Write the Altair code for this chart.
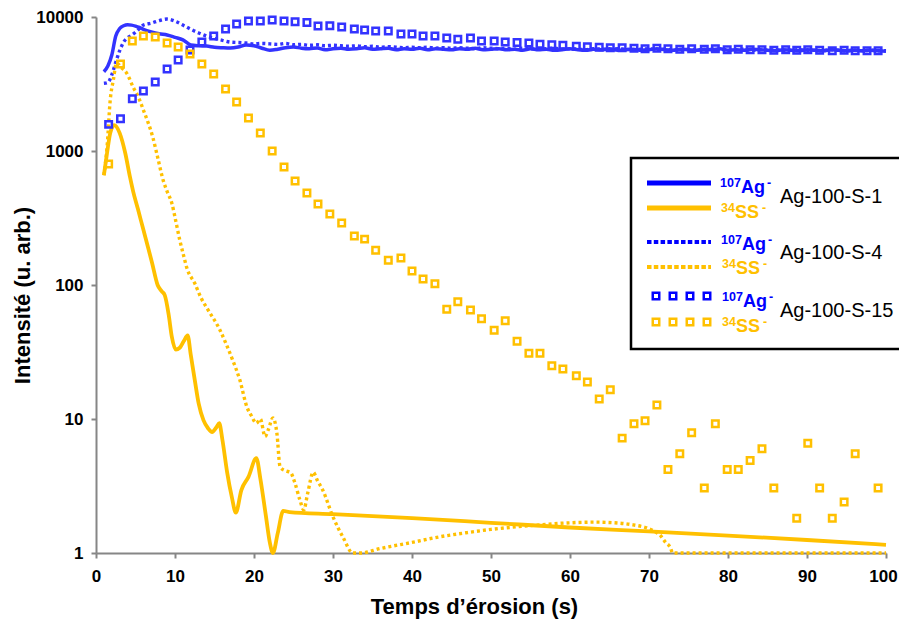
import altair as alt
import pandas as pd

FONT = "Liberation Sans, Arial, sans-serif"
BLUE = "#3333FF"
ORANGE = "#FFC000"
LEG_BLUE = "#0000FF"

# ---------------- data ----------------
x_ticks = [0, 10, 20, 30, 40, 50, 60, 70, 80, 90, 100]
y_ticks = [1, 10, 100, 1000, 10000]

# Blue lines sample times (s)
t_blue = [1.0, 1.5, 2.0, 2.5, 3.0, 3.5, 4.0, 4.5, 5.0, 5.5] + list(range(6, 101))

# Ag-100-S-1, 107Ag-
s1_ag = [3900, 4300, 5200, 7200, 8200, 8600, 8750, 8700, 8550, 8350,
         8100, 7750, 7500, 7340, 7050, 6750, 6180, 6100, 6070, 5950,
         5900, 5870, 5970, 6180, 6100, 5850, 5650, 5750, 5900, 5970,
         5850, 5800, 5870, 5700, 5800, 5850, 5750, 5800, 5900, 5750,
         5800, 5850, 5700, 5800, 5750, 5850, 5700, 5800, 5750, 5700,
         5800, 5750, 5850, 5700, 5750, 5800, 5700, 5750, 5650, 5800,
         5700, 5750, 5650, 5700, 5800, 5700, 5650, 5750, 5700, 5800,
         5650, 5700, 5750, 5650, 5700, 5800, 5700, 5650, 5750, 5700,
         5650, 5750, 5700, 5800, 5650, 5700, 5650, 5750, 5700, 5650,
         5600, 5700, 5650, 5600, 5700, 5650, 5600, 5700, 5650, 5600,
         5650, 5600, 5650, 5600, 5550]

# Ag-100-S-4, 107Ag-
s4_ag = [3200, 3250, 3700, 4600, 5600, 6500, 7000, 7300, 7700, 8200,
         8700, 9000, 9400, 9650, 9300, 8700, 8100, 7600, 7200, 6900,
         6700, 6500, 6450, 6400, 6300, 6350, 6300, 6250, 6350, 6200,
         6250, 6150, 6200, 6100, 6150, 6100, 6050, 6100, 6000, 6050,
         5950, 6000, 5950, 5900, 5950, 5900, 5950, 5850, 5900, 5850,
         5900, 5850, 5800, 5900, 5850, 5800, 5850, 5750, 5850, 5800,
         5750, 5800, 5850, 5750, 5800, 5750, 5700, 5800, 5750, 5700,
         5800, 5750, 5700, 5750, 5800, 5700, 5750, 5700, 5650, 5750,
         5700, 5650, 5750, 5700, 5650, 5700, 5750, 5650, 5700, 5650,
         5700, 5600, 5650, 5700, 5600, 5650, 5600, 5700, 5650, 5600,
         5650, 5600, 5650, 5600, 5600]

# Ag-100-S-1, 34SS-
t_s1_s = [1.0, 1.4, 1.8, 2.3, 3.0, 3.7, 4.3, 4.7, 5.3, 6.0, 6.6, 7.1, 7.8, 8.3, 8.7,
          9.2, 9.6, 10.1, 10.6, 11.1, 11.6, 12.0, 12.5, 13.0, 13.6, 14.2, 14.7, 15.2,
          15.6, 16.0, 16.6, 17.2, 17.7, 18.4, 19.3, 20.3, 20.8, 21.5, 22.0, 22.4, 23.0,
          23.7, 24.5, 30, 40, 50, 60, 70, 80, 90, 100]
v_s1_s = [660, 966, 1360, 1560, 1360, 966, 640, 500, 370, 258, 190, 146, 100, 90, 84,
          60, 41, 33, 34, 38, 42, 30, 19.6, 13, 9.8, 8.5, 8, 8.6,
          9.3, 7, 4, 2.6, 2.0, 2.95, 3.7, 5.1, 3.6, 1.9, 1.2, 1.0, 1.4,
          2.06, 2.02, 1.95, 1.82, 1.68, 1.55, 1.45, 1.35, 1.25, 1.15]

# Ag-100-S-4, 34SS-
t_s4_s = [1.0, 1.4, 1.8, 2.2, 2.6, 3.2, 3.9, 4.7, 5.4, 6.0, 7.2, 7.8, 8.5, 9.0, 9.6,
          10.1, 10.6, 11.1, 11.5, 12.5, 13.3, 14.2, 15.7, 16.5, 17.3, 18.2, 19.1, 19.7,
          20.3, 20.8, 21.4, 21.8, 22.4, 22.9, 23.3, 24.0, 24.6, 25.2, 25.8, 26.3, 26.8,
          27.5, 28.0, 28.7, 30.0, 31.3, 32.5, 33.5, 36, 40, 43.5, 47, 50, 55, 60, 63,
          66.3, 68.0, 69.7, 70.7, 71.4, 72.1, 72.7, 73.0, 100]
v_s4_s = [660, 1070, 2400, 3400, 4540, 4200, 3800, 3000, 2500, 2020, 1260, 900, 605, 500, 408,
          300, 217, 165, 134, 103, 80, 65, 46, 36, 27.5, 19.6, 12.3, 10.5,
          9.3, 10, 7.4, 8.3, 10.2, 7.8, 4.4, 4.1, 4.0, 3.3, 2.5, 2.1, 2.8,
          4.0, 3.5, 2.95, 1.86, 1.3, 1.0, 1.0, 1.08, 1.2, 1.32, 1.42, 1.5, 1.6, 1.68, 1.7,
          1.67, 1.62, 1.54, 1.45, 1.36, 1.2, 1.1, 1.0, 1.0]

# Ag-100-S-15 (markers)
t_s15 = [1.6, 3.1, 4.6, 6.0, 7.5, 9.0, 10.4, 11.9, 13.4, 14.9, 16.4, 17.8, 19.3, 20.8,
         22.3, 23.8, 25.2, 26.7, 28.1, 29.6, 31.1, 32.7, 34.0, 35.4, 37.0, 38.6, 40.0,
         41.4, 42.9, 44.4, 45.8, 47.4, 48.8, 50.4, 51.8, 53.3, 54.8, 56.2, 57.7, 59.1,
         60.8, 62.2, 63.7, 65.1, 66.6, 68.1, 69.5, 71.0, 72.4, 73.9, 75.4, 77.0, 78.4,
         79.9, 81.3, 82.8, 84.3, 85.8, 87.3, 88.7, 90.1, 91.6, 93.2, 94.7, 96.1, 97.6, 99.0]
s15_ag = [1580, 1740, 2450, 2800, 3270, 4090, 4780, 5680, 6500, 7210, 8130, 8870, 9350, 9350,
          9500, 9350, 9200, 9100, 8570, 8600, 8420, 8130, 8000, 7860, 7860, 7470, 7470,
          7210, 7210, 6970, 6820, 6970, 6620, 6620, 6500, 6450, 6400, 6250, 6200, 6150,
          6050, 6000, 5950, 5900, 5900, 5850, 5800, 5850, 5800, 5750, 5800, 5750, 5800,
          5700, 5750, 5700, 5700, 5650, 5700, 5650, 5700, 5650, 5600, 5650, 5600, 5600, 5600]
# 34SS- for S-15 (points below 1 are not visible)
t_s15_s = [1.6, 3.1, 4.6, 6.0, 7.5, 9.0, 10.4, 11.9, 13.4, 14.9, 16.4, 17.8, 19.3, 20.8,
           22.3, 23.8, 25.2, 26.7, 28.1, 29.6, 31.1, 32.7, 34.0, 35.4, 37.0, 38.6, 40.0,
           41.4, 42.9, 44.4, 45.8, 47.4, 48.8, 50.4, 51.8, 53.3, 54.8, 56.2, 57.7, 59.1,
           60.8, 62.2, 63.7, 65.1, 66.6, 68.1, 69.5, 71.0, 72.4, 73.9, 75.4, 77.0, 78.4,
           79.9, 81.3, 82.8, 84.3, 85.8, 88.7, 90.1, 91.6, 93.2, 94.7, 96.1, 99.0]
s15_s = [800, 4460, 6620, 7210, 7080, 6400, 5970, 5300, 4460, 3760, 2900, 2320, 1760, 1360,
         1000, 760, 597, 486, 402, 339, 290, 232, 220, 182, 153, 159, 127,
         111, 102, 66, 75, 65, 56, 46, 54, 38, 31, 31, 25, 23.6,
         21, 18.9, 14.1, 16.5, 7.2, 9.2, 9.7, 12.7, 4.2, 5.5, 7.9, 3.05, 9.2,
         4.2, 4.2, 4.9, 6.0, 3.05, 1.82, 6.6, 3.05, 1.82, 2.4, 5.5, 3.05]

assert len(t_blue) == len(s1_ag) == len(s4_ag)
assert len(t_s1_s) == len(v_s1_s)
assert len(t_s4_s) == len(v_s4_s)
assert len(t_s15) == len(s15_ag)
assert len(t_s15_s) == len(s15_s)


def frame(t, v):
    return pd.DataFrame({"t": t, "v": v})


# ---------------- encodings ----------------
common_axis = dict(
    grid=False,
    domainColor="#868686", domainWidth=2,
    tickColor="#868686", tickWidth=2, tickSize=5,
    labelFont=FONT, labelFontSize=17, labelFontWeight="bold", labelColor="black",
    titleFont=FONT, titleFontSize=22, titleFontWeight="bold", titleColor="black",
    titleBaseline="alphabetic", titleAlign="center",
    labelFlush=False, labelOverlap=False,
)

x_enc = alt.X(
    "t:Q",
    scale=alt.Scale(domain=[0, 100], nice=False, zero=False),
    axis=alt.Axis(values=x_ticks, format="d", title="Temps d’érosion (s)",
                  labelPadding=10, titleX=378, titleY=60,
                  labelOffset={"condition": {"test": "datum.value == 100", "value": -3},
                               "value": 0},
                  **common_axis),
)
y_enc = alt.Y(
    "v:Q",
    scale=alt.Scale(type="log", domain=[1, 10000], nice=False),
    axis=alt.Axis(values=y_ticks, format="d", title="Intensité (u. arb.)",
                  labelPadding=8, titleX=-67, titleY=278, titleAngle=270, **common_axis),
)


def line(t, v, color, width=3.5, dash=None):
    kw = dict(color=color, strokeWidth=width, interpolate="monotone", strokeCap="butt")
    if dash is not None:
        kw["strokeDash"] = dash
    return alt.Chart(frame(t, v)).mark_line(**kw).encode(x=x_enc, y=y_enc)


def squares(t, v, color):
    return alt.Chart(frame(t, v)).mark_point(
        shape="square", filled=False, size=42, strokeWidth=2.5, color=color, opacity=1
    ).encode(x=x_enc, y=y_enc)


layers = [
    line(t_blue, s1_ag, BLUE, 3.5),
    line(t_s1_s, v_s1_s, ORANGE, 3.8),
    line(t_blue, s4_ag, BLUE, 3.4, [3, 3]),
    line(t_s4_s, v_s4_s, ORANGE, 3.4, [3, 3]),
    squares(t_s15, s15_ag, BLUE),
    squares(t_s15_s, s15_s, ORANGE),
]

# ---------------- legend (drawn manually) ----------------
one = pd.DataFrame({"k": [0]})
OX, OY = 96, 17  # plot origin on the page


def ltxt(s, px, py, size, color, weight="bold"):
    return alt.Chart(one).mark_text(
        text=s, align="left", baseline="alphabetic", font=FONT,
        fontSize=size, fontWeight=weight, color=color
    ).encode(x=alt.value(px - OX), y=alt.value(py - OY))


def lrule(px1, px2, py, color, width, dash=None):
    kw = dict(color=color, strokeWidth=width, strokeCap="butt")
    if dash is not None:
        kw["strokeDash"] = dash
    return alt.Chart(one).mark_rule(**kw).encode(
        x=alt.value(px1 - OX), x2=alt.value(px2 - OX), y=alt.value(py - OY))


def lsq(px, py, color):
    return alt.Chart(one).mark_point(
        shape="square", filled=False, size=42, strokeWidth=2.5, color=color, opacity=1
    ).encode(x=alt.value(px - OX), y=alt.value(py - OY))


legend = [
    alt.Chart(one).mark_rect(fill="white", stroke="black", strokeWidth=2.5).encode(
        x=alt.value(631 - OX), x2=alt.value(940 - OX),
        y=alt.value(158 - OY), y2=alt.value(349 - OY)),
    lrule(647, 711, 183, LEG_BLUE, 5),
    lrule(647, 711, 208, ORANGE, 5),
    lrule(647, 711, 242, LEG_BLUE, 4, [4.5, 2.3]),
    lrule(647, 711, 267, ORANGE, 4, [4.5, 2.3]),
]
for sx in [656, 673, 690, 707]:
    legend.append(lsq(sx, 296, LEG_BLUE))
    legend.append(lsq(sx, 322, ORANGE))

SUP = 12.5
BIG = 18
for (bx, by, ox, oy, lx, ly, label) in [
    (720, 193, 721, 218, 780, 203, "Ag-100-S-1"),
    (721, 250, 722, 274, 780, 259, "Ag-100-S-4"),
    (722, 307, 722, 332, 780, 317, "Ag-100-S-15"),
]:
    legend += [
        ltxt("107", bx, by - 6, SUP, LEG_BLUE),
        ltxt("Ag", bx + 21, by, BIG, LEG_BLUE),
        ltxt("-", bx + 47, by - 6, SUP, LEG_BLUE),
        ltxt("34", ox, oy - 6, SUP, ORANGE),
        ltxt("SS", ox + 14, oy, BIG, ORANGE),
        ltxt("-", ox + 41, oy - 6, SUP, ORANGE),
        ltxt(label, lx, ly, 20, "black", "normal"),
    ]

chart = alt.layer(*layers, *legend).properties(
    width=790, height=536,
    padding={"left": 88, "top": 9, "right": 13, "bottom": 66},
    autosize=alt.AutoSizeParams(type="none"),
    background="white",
).configure_view(stroke=None)

chart.save("out.html", embed_options={"renderer": "svg", "actions": False})
